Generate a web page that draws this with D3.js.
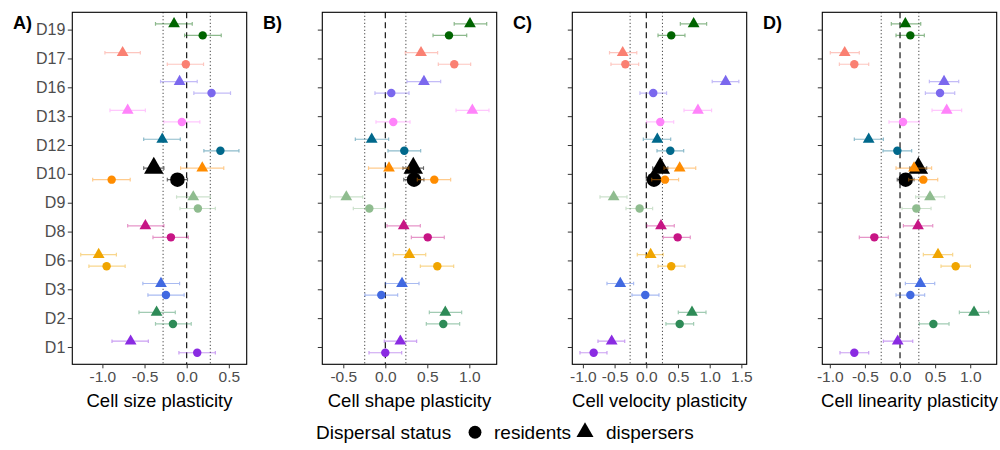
<!DOCTYPE html>
<html>
<head>
<meta charset="utf-8">
<script src="https://cdn.jsdelivr.net/npm/d3@7"></script>
<style>
  html, body { margin: 0; padding: 0; background: #fff; }
  svg { display: block; font-family: "Liberation Sans", Arial, sans-serif; }
</style>
</head>
<body>
<svg id="chart" width="1000" height="450"></svg>
<script>
// ---------- data ----------
const categories = ["D1","D2","D3","D6","D8","D9","D10","D12","D13","D16","D17","D19"];
const colors = ["#8A2BE2","#2E8B57","#4169E1","#F0A500","#C71585","#8FBC8F","#FF8C00","#00688B","#FF83FA","#7B68EE","#FA8072","#006400"];

const panelLetters = ["A)","B)","C)","D)"];
const panelTitles = ["Cell size plasticity","Cell shape plasticity","Cell velocity plasticity","Cell linearity plasticity"];
const panelDomains = [[-1.357,0.712],[-0.75,1.326],[-1.167,1.584],[-1.107,1.377]];
const panelTicks = [[-1,-0.5,0,0.5],[-0.5,0,0.5,1],[-1,-0.5,0,0.5,1,1.5],[-1,-0.5,0,0.5,1]];
const thresholds = [0.28,0.245,0.255,0.268];

// [estimate, lower, upper] per category (same order as categories)
const sizeResidents = [[0.125,-0.092,0.34],[-0.163,-0.37,0.054],[-0.246,-0.46,-0.03],[-0.95,-1.16,-0.73],[-0.187,-0.40,0.02],[0.133,-0.08,0.34],[-0.89,-1.115,-0.67],[0.40,0.204,0.62],[-0.057,-0.27,0.156],[0.295,0.085,0.52],[-0.01,-0.23,0.20],[0.19,-0.025,0.41]];
const sizeDispersers = [[-0.665,-0.886,-0.455],[-0.357,-0.566,-0.135],[-0.305,-0.52,-0.084],[-1.044,-1.257,-0.834],[-0.49,-0.70,-0.27],[0.078,-0.12,0.28],[0.185,-0.072,0.44],[-0.29,-0.51,-0.076],[-0.70,-0.91,-0.49],[-0.084,-0.31,0.125],[-0.76,-0.97,-0.55],[-0.15,-0.37,0.066]];
const shapeResidents = [[0.0,-0.194,0.195],[0.69,0.488,0.885],[-0.048,-0.242,0.147],[0.619,0.417,0.814],[0.505,0.31,0.702],[-0.19,-0.381,-0.004],[0.583,0.381,0.778],[0.226,0.032,0.421],[0.095,-0.111,0.294],[0.071,-0.123,0.282],[0.821,0.631,1.016],[0.758,0.568,0.969]];
const shapeDispersers = [[0.179,-0.012,0.373],[0.714,0.524,0.909],[0.199,0.004,0.401],[0.286,0.095,0.481],[0.219,0.02,0.417],[-0.464,-0.655,-0.269],[0.044,-0.2,0.28],[-0.162,-0.357,0.04],[1.036,0.842,1.234],[0.46,0.258,0.659],[0.425,0.238,0.623],[1.008,0.82,1.207]];
const velocityResidents = [[-0.83,-1.046,-0.62],[0.527,0.31,0.747],[-0.016,-0.226,0.2],[0.394,0.185,0.61],[0.495,0.268,0.694],[-0.105,-0.32,0.1],[0.295,0.085,0.51],[0.379,0.169,0.59],[0.221,0.005,0.432],[0.11,-0.1,0.32],[-0.33,-0.557,-0.12],[0.394,0.185,0.61]];
const velocityDispersers = [[-0.546,-0.762,-0.34],[0.721,0.505,0.942],[-0.41,-0.62,-0.2],[0.069,-0.142,0.268],[0.232,0.011,0.442],[-0.515,-0.73,-0.304],[0.527,0.28,0.78],[0.174,-0.047,0.385],[0.815,0.595,1.03],[1.252,1.04,1.46],[-0.372,-0.58,-0.15],[0.747,0.537,0.952]];
const linearityResidents = [[-0.651,-0.855,-0.446],[0.475,0.275,0.698],[0.147,-0.057,0.351],[0.793,0.584,1.002],[-0.366,-0.58,-0.167],[0.232,0.028,0.442],[0.332,0.124,0.537],[-0.038,-0.242,0.166],[0.043,-0.157,0.275],[0.57,0.361,0.779],[-0.651,-0.864,-0.446],[0.147,-0.057,0.346]];
const linearityDispersers = [[-0.033,-0.237,0.181],[1.054,0.845,1.263],[0.29,0.076,0.494],[0.541,0.332,0.75],[0.256,0.048,0.466],[0.427,0.223,0.636],[0.2,-0.057,0.45],[-0.446,-0.651,-0.237],[0.665,0.456,0.878],[0.627,0.418,0.836],[-0.788,-0.993,-0.58],[0.076,-0.124,0.295]];
// overall means (black), shown at the D10 row
const meanResidents = [[-0.11,-0.23,0.01],[0.342,0.22,0.46],[0.121,0.0,0.24],[0.081,-0.04,0.20]];
const meanDispersers = [[-0.39,-0.51,-0.27],[0.333,0.21,0.455],[0.221,0.1,0.34],[0.261,0.14,0.38]];
const meanRow = "D10";

const residentsByPanel = [sizeResidents, shapeResidents, velocityResidents, linearityResidents];
const dispersersByPanel = [sizeDispersers, shapeDispersers, velocityDispersers, linearityDispersers];

// ---------- layout ----------
const svg = d3.select("#chart");
const plotTop = 12.3, plotBottom = 364.3, panelW = 174.4, panelStep = 250, firstLeft = 72.3;
const font = "'Liberation Sans', Arial, sans-serif";

const y = d3.scalePoint().domain(categories).range([plotBottom, plotTop]).padding(0.6);
const dodge = y.step() * 0.2;

const circleSym = d3.symbol().type(d3.symbolCircle);
const triSym = d3.symbol().type(d3.symbolTriangle);

function errBar(g, x, yy, lo, hi, color, opacity, width) {
  const cap = 1.8;
  const p = d3.path();
  p.moveTo(x(lo), yy); p.lineTo(x(hi), yy);
  p.moveTo(x(lo), yy - cap); p.lineTo(x(lo), yy + cap);
  p.moveTo(x(hi), yy - cap); p.lineTo(x(hi), yy + cap);
  g.append("path").attr("d", p.toString()).attr("fill", "none")
    .attr("stroke", color).attr("stroke-opacity", opacity).attr("stroke-width", width);
}

for (let i = 0; i < 4; i++) {
  const left = firstLeft + i * panelStep;
  const x = d3.scaleLinear().domain(panelDomains[i]).range([left, left + panelW]);
  const g = svg.append("g");

  // reference lines
  const t = thresholds[i];
  [-t, t].forEach(v => {
    g.append("line").attr("x1", x(v)).attr("x2", x(v)).attr("y1", plotTop).attr("y2", plotBottom)
      .attr("stroke", "#000").attr("stroke-width", 0.9).attr("stroke-dasharray", "1,2.5");
  });
  g.append("line").attr("x1", x(0)).attr("x2", x(0)).attr("y1", plotTop).attr("y2", plotBottom)
    .attr("stroke", "#000").attr("stroke-width", 1.1).attr("stroke-dasharray", "6,4");

  // overall means (black)
  const yb = y(meanRow);
  const mr = meanResidents[i], md = meanDispersers[i];
  errBar(g, x, yb - dodge, md[1], md[2], "#000", 0.6, 1.1);
  errBar(g, x, yb + dodge, mr[1], mr[2], "#000", 0.6, 1.1);
  g.append("path").attr("d", triSym.size(165)()).attr("transform", `translate(${x(md[0])},${yb - dodge})`).attr("fill", "#000");
  g.append("path").attr("d", circleSym.size(165)()).attr("transform", `translate(${x(mr[0])},${yb + dodge})`).attr("fill", "#000");

  // per-category
  const res = residentsByPanel[i], dis = dispersersByPanel[i];
  categories.forEach((c, k) => {
    const yc = y(c);
    errBar(g, x, yc - dodge, dis[k][1], dis[k][2], colors[k], 0.45, 1.2);
    errBar(g, x, yc + dodge, res[k][1], res[k][2], colors[k], 0.45, 1.2);
  });
  categories.forEach((c, k) => {
    const yc = y(c);
    g.append("path").attr("d", triSym.size(60)()).attr("transform", `translate(${x(dis[k][0])},${yc - dodge})`).attr("fill", colors[k]);
    g.append("path").attr("d", circleSym.size(56)()).attr("transform", `translate(${x(res[k][0])},${yc + dodge})`).attr("fill", colors[k]);
  });

  // frame
  g.append("rect").attr("x", left).attr("y", plotTop).attr("width", panelW).attr("height", plotBottom - plotTop)
    .attr("fill", "none").attr("stroke", "#000").attr("stroke-width", 1.1);

  // x axis
  const xa = g.append("g").attr("transform", `translate(0,${plotBottom})`)
    .call(d3.axisBottom(x).tickValues(panelTicks[i]).tickSize(4).tickPadding(3).tickFormat(d => d.toFixed(1)));
  xa.select(".domain").remove();
  xa.selectAll("line").attr("stroke", "#333").attr("stroke-width", 1);
  xa.selectAll("text").attr("fill", "#4D4D4D").attr("font-size", 15.5).attr("font-family", font);

  // y axis
  const ya = g.append("g").attr("transform", `translate(${left},0)`)
    .call(d3.axisLeft(y).tickSize(4.5).tickPadding(2.5).tickFormat(d => i === 0 ? d : ""));
  ya.select(".domain").remove();
  ya.selectAll("line").attr("stroke", "#333").attr("stroke-width", 1);
  ya.selectAll("text").attr("fill", "#4D4D4D").attr("font-size", 16).attr("font-family", font);

  // axis title
  g.append("text").attr("x", left + panelW / 2).attr("y", 406.5).attr("text-anchor", "middle")
    .attr("font-size", 18.5).attr("font-family", font).attr("fill", "#000").text(panelTitles[i]);

  // panel letter
  g.append("text").attr("x", 13 + i * panelStep).attr("y", 28.5).attr("font-size", 18)
    .attr("font-weight", "bold").attr("font-family", font).attr("fill", "#000").text(panelLetters[i]);
}

// ---------- legend ----------
const lg = svg.append("g");
lg.append("text").attr("x", 316).attr("y", 438.5).attr("font-size", 19).attr("font-family", font).text("Dispersal status");
lg.append("path").attr("d", circleSym.size(130)()).attr("transform", "translate(475,432.3)").attr("fill", "#000");
lg.append("text").attr("x", 494).attr("y", 438.5).attr("font-size", 19).attr("font-family", font).text("residents");
lg.append("path").attr("d", triSym.size(125)()).attr("transform", "translate(585,432)").attr("fill", "#000");
lg.append("text").attr("x", 606).attr("y", 438.5).attr("font-size", 19).attr("font-family", font).text("dispersers");
</script>
</body>
</html>
